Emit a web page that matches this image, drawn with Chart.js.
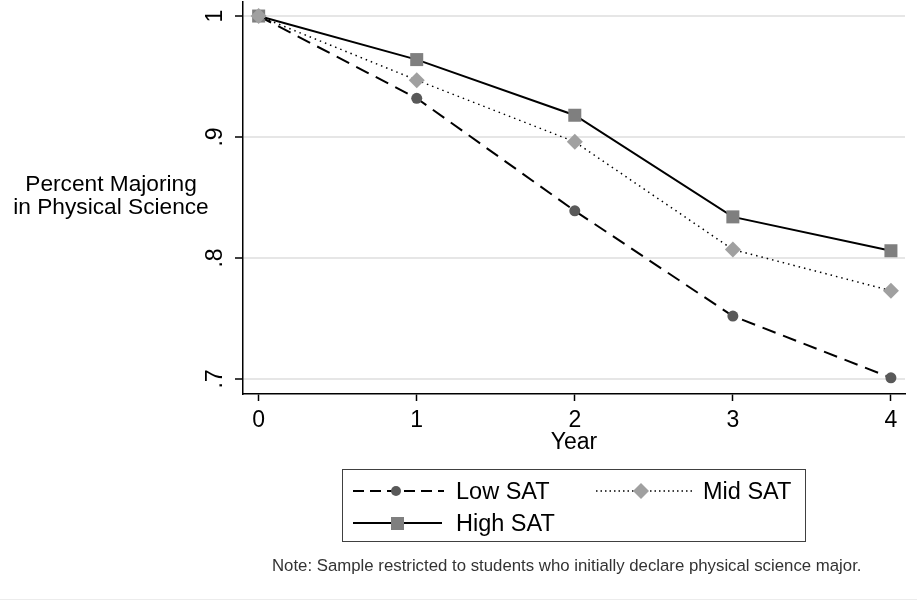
<!DOCTYPE html>
<html>
<head>
<meta charset="utf-8">
<title>Percent Majoring in Physical Science</title>
<script src="https://cdn.jsdelivr.net/npm/chart.js@4.4.0/dist/chart.umd.min.js"></script>
<style>
  html, body { margin: 0; padding: 0; background: #fff; }
  #wrap { position: relative; width: 917px; height: 601px; overflow: hidden;
          font-family: "Liberation Sans", Arial, sans-serif; color: #000; }
  #chart { position: absolute; left: 0; top: 0; }
  .ytitle { position: absolute; left: 0; top: 172px; width: 222px; text-align: center;
            font-size: 22.7px; line-height: 23px; }
  .legend { position: absolute; left: 342px; top: 469px; width: 464px; height: 73px;
            border: 1px solid #404040; box-sizing: border-box; }
  .legend svg { position: absolute; left: 0; top: 0; }
  .legend span { position: absolute; font-size: 23.5px; line-height: 24px; white-space: nowrap; }
  .note { position: absolute; left: 272px; top: 556px; font-size: 16.8px; color: #333; white-space: nowrap; }
  .rule { position: absolute; left: 0; right: 0; top: 599px; border-top: 1px solid #ececec; }
</style>
</head>
<body>
<div id="wrap">
  <canvas id="chart" width="917" height="601"></canvas>
  <div class="ytitle">Percent Majoring<br>in Physical Science</div>
  <div class="legend">
    <svg width="462" height="71">
      <line x1="10" y1="21" x2="101" y2="21" stroke="#000" stroke-width="2" stroke-dasharray="11 6"/>
      <circle cx="53" cy="21" r="5" fill="#595959"/>
      <line x1="253" y1="21" x2="351" y2="21" stroke="#000" stroke-width="1.5" stroke-dasharray="1.5 3"/>
      <polygon points="298,13 306,21 298,29 290,21" fill="#a0a0a0"/>
      <line x1="10" y1="53" x2="99" y2="53" stroke="#000" stroke-width="2"/>
      <rect x="48" y="47" width="13" height="13" fill="#7f7f7f"/>
    </svg>
    <span style="left:113px; top:9px;">Low SAT</span>
    <span style="left:360px; top:9px;">Mid SAT</span>
    <span style="left:113px; top:41px;">High SAT</span>
  </div>
  <div class="note">Note: Sample restricted to students who initially declare physical science major.</div>
  <div class="rule"></div>
</div>
<script>
  const years = [0, 1, 2, 3, 4];
  const lowSAT = [1, 0.932, 0.839, 0.752, 0.701];
  const midSAT = [1, 0.947, 0.896, 0.807, 0.773];
  const highSAT = [1, 0.964, 0.918, 0.834, 0.806];
  const yTickValues = [0.7, 0.8, 0.9, 1];
  const yTickLabels = ['.7', '.8', '.9', '1'];
  const xTickValues = [0, 1, 2, 3, 4];

  const FONT = '"Liberation Sans", Arial, sans-serif';
  const pts = vals => vals.map((v, i) => ({ x: years[i], y: v }));

  // rotated y tick labels, Stata style
  const yLabels = {
    id: 'yLabels',
    afterDraw(chart) {
      const s = chart.scales.y, ctx = chart.ctx;
      ctx.save();
      ctx.font = '23px ' + FONT;
      ctx.fillStyle = '#000';
      ctx.textAlign = 'center';
      ctx.textBaseline = 'middle';
      yTickValues.forEach((v, i) => {
        ctx.save();
        ctx.translate(s.right - 27, s.getPixelForValue(v));
        ctx.rotate(-Math.PI / 2);
        ctx.fillText(yTickLabels[i], 0, 0);
        ctx.restore();
      });
      ctx.restore();
    }
  };

  new Chart(document.getElementById('chart'), {
    type: 'line',
    data: {
      datasets: [
        { label: 'Low SAT', data: pts(lowSAT), order: 2, borderColor: '#000', borderWidth: 2,
          borderDash: [14, 8], pointStyle: 'circle', pointRadius: 5.5,
          pointBackgroundColor: '#595959', pointBorderWidth: 0 },
        { label: 'Mid SAT', data: pts(midSAT), order: 0, borderColor: '#000', borderWidth: 1.5,
          borderDash: [1.5, 4], pointStyle: 'rectRot', pointRadius: 8,
          pointBackgroundColor: '#a0a0a0', pointBorderWidth: 0 },
        { label: 'High SAT', data: pts(highSAT), order: 1, borderColor: '#000', borderWidth: 2,
          pointStyle: 'rect', pointRadius: 9.2,
          pointBackgroundColor: '#7f7f7f', pointBorderWidth: 0 }
      ]
    },
    options: {
      responsive: false,
      animation: false,
      layout: { autoPadding: false, padding: { left: 0, top: 2, right: 12, bottom: 145 } },
      plugins: { legend: { display: false }, tooltip: { enabled: false } },
      scales: {
        x: {
          type: 'linear', min: -0.099, max: 4.089,
          afterBuildTicks: s => { s.ticks = xTickValues.map(v => ({ value: v })); },
          afterFit: s => { s.height = 62; s.paddingLeft = 0; s.paddingRight = 0; },
          border: { color: '#000', width: 1.5 },
          grid: { drawOnChartArea: false, tickColor: '#000', tickLength: 7, tickWidth: 1.5 },
          ticks: { color: '#000', font: { family: FONT, size: 23 }, padding: 6, maxRotation: 0,
                   callback: v => String(v) },
          title: { display: true, text: 'Year', color: '#000',
                   font: { family: FONT, size: 23, lineHeight: 1.2 }, padding: { top: 0, bottom: 0 } }
        },
        y: {
          min: 0.6876, max: 1.0116,
          afterBuildTicks: s => { s.ticks = yTickValues.map(v => ({ value: v })); },
          afterFit: s => { s.width = 243; s.paddingTop = 0; s.paddingBottom = 0; },
          border: { color: '#000', width: 1.5 },
          grid: { color: '#e6e6e6', lineWidth: 2, tickColor: '#000', tickLength: 8, tickWidth: 1.5 },
          ticks: { display: false }
        }
      }
    },
    plugins: [yLabels]
  });
</script>
</body>
</html>
